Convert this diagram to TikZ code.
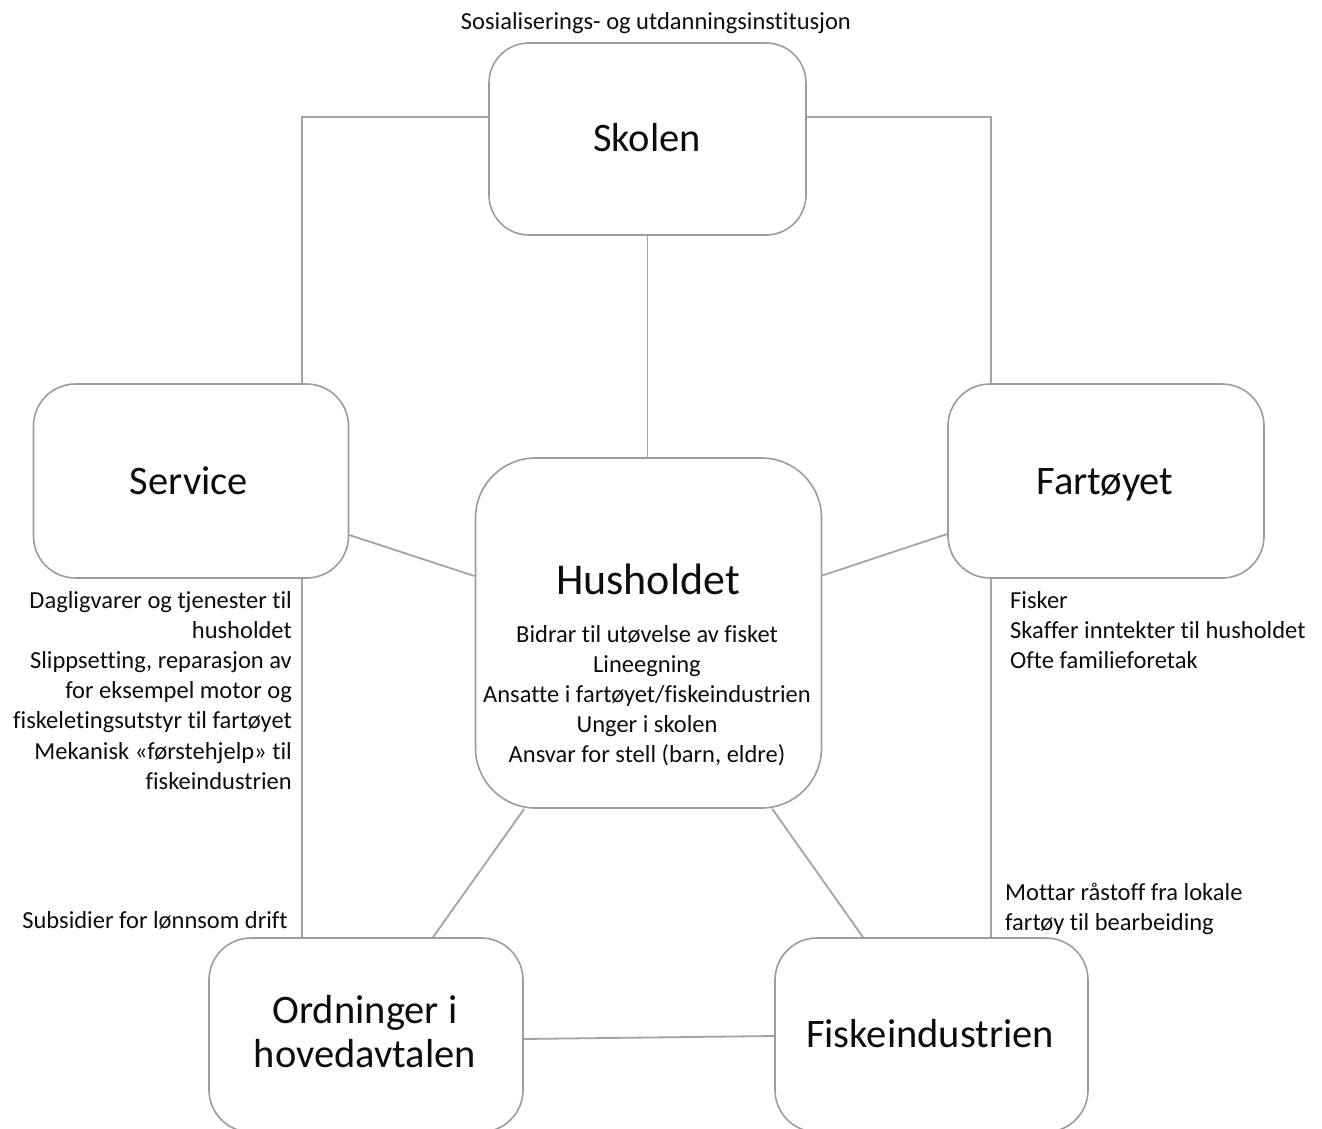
\documentclass[tikz,border=0pt]{standalone}
\usepackage{fontspec}
\setmainfont{Carlito}[Ligatures=NoCommon]
\definecolor{linegray}{HTML}{A4A4A4}
\definecolor{boxgray}{HTML}{9C9C9C}
\definecolor{txt}{HTML}{0D0D0D}
\begin{document}
\begin{tikzpicture}[x=1pt,y=-1pt,
  box/.style={draw=boxgray, line width=1.6pt, rounded corners=42pt, fill=white, inner sep=0pt, minimum width=315pt, minimum height=194pt},
  conn/.style={draw=linegray, line width=1.8pt},
  big/.style={font=\fontsize{40.5}{46}\selectfont, text=txt, inner sep=0pt},
  small/.style={font=\fontsize{24.5}{30}\selectfont, text=txt, inner sep=0pt}]
\useasboundingbox (0,0) rectangle (1322,1129);
\clip (0,0) rectangle (1322,1129);
\fill[white] (0,0) rectangle (1322,1129);

% boxes
\node[box, minimum width=317pt, minimum height=192pt, rounded corners=40pt] (skolen) at (647.5,139) {};
\node[box] (service) at (191,481) {};
\node[box, minimum width=316pt] (fartoy) at (1106,481) {};
\node[box, minimum width=346pt, minimum height=350pt, rounded corners=60pt] (hus) at (648.5,633) {};
\node[box, minimum width=314pt] (ordn) at (366,1035) {};
\node[box, minimum width=313pt] (fisk) at (931.5,1035) {};

% helper coordinates
\coordinate (cL) at (302,117);
\coordinate (cR) at (991,117);
\coordinate (y535) at (0,535);
\coordinate (y534) at (0,534);
\coordinate (x433) at (433,0);
\coordinate (x863) at (863,0);
\coordinate (y1039) at (0,1039);
\coordinate (y1036) at (0,1036);

% connectors
\draw[conn] (skolen.west |- cL) -- (cL) -- (service.north -| cL);
\draw[conn] (skolen.east |- cR) -- (cR) -- (fartoy.north -| cR);
\draw[conn] (skolen.south) -- (skolen.south |- hus.north);
\draw[conn] (service.east |- y535) -- (hus);
\draw[conn] (fartoy.west |- y534) -- (hus);
\draw[conn] (ordn.north -| x433) -- (hus);
\draw[conn] (fisk.north -| x863) -- (hus);
\draw[conn] (service.south -| cL) -- (ordn.north -| cL);
\draw[conn] (fartoy.south -| cR) -- (fisk.north -| cR);
\draw[conn] (ordn.east |- y1039) -- (fisk.west |- y1036);

% titles
\node[big, anchor=base] (tskolen) at (647,152) {Skolen};
\node[big, anchor=base] (tservice) at (189,494) {Service};
\node[big, anchor=base] (tfartoy) at (1105,494) {Fartøyet};
\node[big, anchor=base] (tfisk) at (930,1047) {Fiskeindustrien};
\node[big, anchor=base] (tordn1) at (365,1023) {Ordninger i};
\node[big, anchor=base] (tordn2) at (365,1067) {hovedavtalen};
\node[big, anchor=base, font=\fontsize{44}{50}\selectfont] (thus) at (648,594) {Husholdet};

% small texts
\node[small, anchor=base] (tsos) at (656,30) {Sosialiserings- og utdanningsinstitusjon};

\node[small, anchor=base] (h1) at (647,642) {Bidrar til utøvelse av fisket};
\node[small, anchor=base] (h2) at (647,672) {Lineegning};
\node[small, anchor=base] (h3) at (647,702) {Ansatte i fartøyet/fiskeindustrien};
\node[small, anchor=base] (h4) at (647,732) {Unger i skolen};
\node[small, anchor=base] (h5) at (647,762) {Ansvar for stell (barn, eldre)};

\node[small, anchor=base east] (s1) at (292,608) {Dagligvarer og tjenester til};
\node[small, anchor=base east] (s2) at (292,638) {husholdet};
\node[small, anchor=base east] (s3) at (292,668) {Slippsetting, reparasjon av};
\node[small, anchor=base east] (s4) at (292,698) {for eksempel motor og};
\node[small, anchor=base east] (s5) at (292,728) {fiskeletingsutstyr til fartøyet};
\node[small, anchor=base east] (s6) at (292,759) {Mekanisk «førstehjelp» til};
\node[small, anchor=base east] (s7) at (292,789) {fiskeindustrien};

\node[small, anchor=base west] (f1) at (1010,608) {Fisker};
\node[small, anchor=base west] (f2) at (1010,638) {Skaffer inntekter til husholdet};
\node[small, anchor=base west] (f3) at (1010,668) {Ofte familieforetak};

\node[small, anchor=base west] (m1) at (1005,900) {Mottar råstoff fra lokale};
\node[small, anchor=base west] (m2) at (1005,930) {fartøy til bearbeiding};

\node[small, anchor=base east] (sub) at (288,928) {Subsidier for lønnsom drift};
\end{tikzpicture}
\end{document}
